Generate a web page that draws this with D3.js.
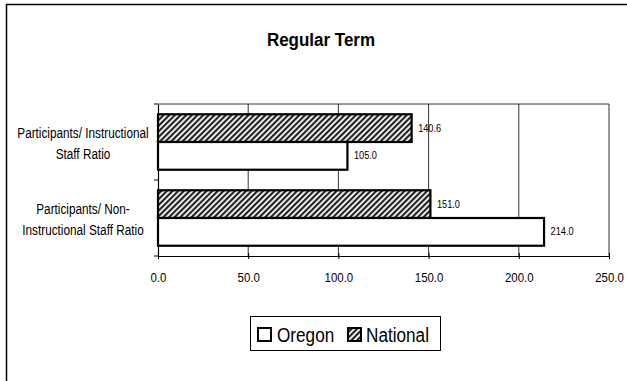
<!DOCTYPE html>
<html>
<head>
<meta charset="utf-8">
<script src="https://cdn.jsdelivr.net/npm/d3@7"></script>
<style>
  body { margin: 0; background: #fff; }
  svg { display: block; font-family: "Liberation Sans", Arial, sans-serif; }
</style>
</head>
<body>
<svg width="627" height="381"></svg>
<script>
// data
const categories = ["Participants/ Instructional Staff Ratio", "Participants/ Non-Instructional Staff Ratio"];
const categoryLines = [["Participants/ Instructional", "Staff Ratio"], ["Participants/ Non-", "Instructional Staff Ratio"]];
const seriesNames = ["National", "Oregon"];
const nationalValues = [140.6, 151.0];
const oregonValues = [105.0, 214.0];
const xTicks = [0, 50, 100, 150, 200, 250];

const svg = d3.select("svg");

// squeeze text to a narrow look (the reference uses a condensed face)
function narrow(sel, ratio) {
  sel.each(function () {
    const w = this.getComputedTextLength();
    d3.select(this).attr("textLength", w * ratio).attr("lengthAdjust", "spacingAndGlyphs");
  });
}

// outer frame (top and left edges only visible)
svg.append("line").attr("x1", 6).attr("x2", 627).attr("y1", 4.5).attr("y2", 4.5)
    .attr("stroke", "#000").attr("stroke-width", 1.5);
svg.append("line").attr("x1", 6.5).attr("x2", 6.5).attr("y1", 4).attr("y2", 381)
    .attr("stroke", "#000").attr("stroke-width", 1.5);

// hatch pattern
const defs = svg.append("defs");
const pat = defs.append("pattern")
    .attr("id", "hatch")
    .attr("patternUnits", "userSpaceOnUse")
    .attr("width", 4).attr("height", 4)
    .attr("patternTransform", "rotate(45)");
pat.append("rect").attr("width", 4).attr("height", 4).attr("fill", "#fff");
pat.append("rect").attr("width", 2.2).attr("height", 4).attr("fill", "#222");

const plot = { left: 158, right: 609, top: 104, bottom: 256 };

const x = d3.scaleLinear().domain([0, 250]).range([plot.left, plot.right]);
const y = d3.scaleBand().domain(categories).range([plot.top, plot.bottom]).paddingInner(0).paddingOuter(0);
const inner = d3.scaleBand().domain(seriesNames).range([0, y.bandwidth()]).paddingInner(0).paddingOuter(0.37);

// title
svg.append("text").attr("x", 321).attr("y", 45.5).attr("text-anchor", "middle")
    .attr("font-size", 17.5).attr("font-weight", "bold").text("Regular Term")
    .call(narrow, 0.97);

// gridlines
svg.append("g").selectAll("line").data(xTicks.slice(1))
  .join("line")
    .attr("x1", d => x(d)).attr("x2", d => x(d))
    .attr("y1", plot.top).attr("y2", plot.bottom)
    .attr("stroke", "#000").attr("stroke-width", 0.8);
svg.append("line").attr("x1", plot.left).attr("x2", plot.right)
    .attr("y1", plot.top).attr("y2", plot.top).attr("stroke", "#000").attr("stroke-width", 0.8);

// x axis
const xAxis = d3.axisBottom(x).tickValues(xTicks).tickFormat(d3.format(".1f")).tickSize(4).tickSizeOuter(0);
const gx = svg.append("g").attr("transform", `translate(0,${plot.bottom})`).call(xAxis);
gx.select(".domain").attr("stroke", "#000").attr("stroke-width", 1.2);
gx.selectAll(".tick line").attr("stroke", "#000").attr("y1", -3).attr("y2", 3);
gx.selectAll("text").attr("font-size", 13).attr("fill", "#000")
    .attr("y", 26).attr("dy", 0)
    .attr("font-family", "Liberation Sans, Arial, sans-serif")
    .call(narrow, 0.88);

// y axis
const yAxis = d3.axisLeft(y).tickValues([]).tickSizeOuter(0);
const gy = svg.append("g").attr("transform", `translate(${plot.left},0)`).call(yAxis);
gy.select(".domain").attr("stroke", "#000").attr("stroke-width", 1.2);
const sepY = [plot.top, y(categories[1]), plot.bottom];
svg.append("g").selectAll("line").data(sepY).join("line")
    .attr("x1", plot.left - 4).attr("x2", plot.left)
    .attr("y1", d => d).attr("y2", d => d)
    .attr("stroke", "#000").attr("stroke-width", 1);

// category labels
categories.forEach((c, i) => {
  const cy = y(c) + y.bandwidth() / 2;
  categoryLines[i].forEach((ln, j) => {
    svg.append("text").attr("text-anchor", "middle")
        .attr("x", 83).attr("y", cy - 4 + j * 20.5)
        .attr("font-size", 14).attr("fill", "#000").text(ln)
        .call(narrow, 0.84);
  });
});

// bars
const rows = [];
categories.forEach((c, i) => {
  rows.push({ cat: c, series: "National", value: nationalValues[i] });
  rows.push({ cat: c, series: "Oregon", value: oregonValues[i] });
});

const bars = svg.append("g");
bars.selectAll("rect").data(rows).join("rect")
    .attr("x", x(0))
    .attr("y", d => y(d.cat) + inner(d.series))
    .attr("width", d => x(d.value) - x(0))
    .attr("height", inner.bandwidth())
    .attr("fill", d => d.series === "National" ? "url(#hatch)" : "#fff")
    .attr("stroke", "#000").attr("stroke-width", 2.2);

bars.selectAll("text").data(rows).join("text")
    .attr("x", d => x(d.value) + 6.5)
    .attr("y", d => y(d.cat) + inner(d.series) + inner.bandwidth() / 2 + 3.5)
    .attr("font-size", 11.5).attr("fill", "#000")
    .text(d => d3.format(".1f")(d.value))
    .call(narrow, 0.8);

// legend
const lg = svg.append("g");
lg.append("rect").attr("x", 250.5).attr("y", 316.5).attr("width", 190).attr("height", 34)
    .attr("fill", "#fff").attr("stroke", "#000").attr("stroke-width", 1);
const legendItems = [
  { name: "Oregon", fill: "#fff", x: 257, tx: 277 },
  { name: "National", fill: "url(#hatch)", x: 347, tx: 366 }
];
legendItems.forEach(it => {
  lg.append("rect").attr("x", it.x + 1).attr("y", 328).attr("width", 13).attr("height", 13)
      .attr("fill", it.fill).attr("stroke", "#000").attr("stroke-width", 2);
  lg.append("text").attr("x", it.tx).attr("y", 341.5).attr("font-size", 19.5)
      .attr("fill", "#000").text(it.name)
      .call(narrow, 0.88);
});
</script>
</body>
</html>
